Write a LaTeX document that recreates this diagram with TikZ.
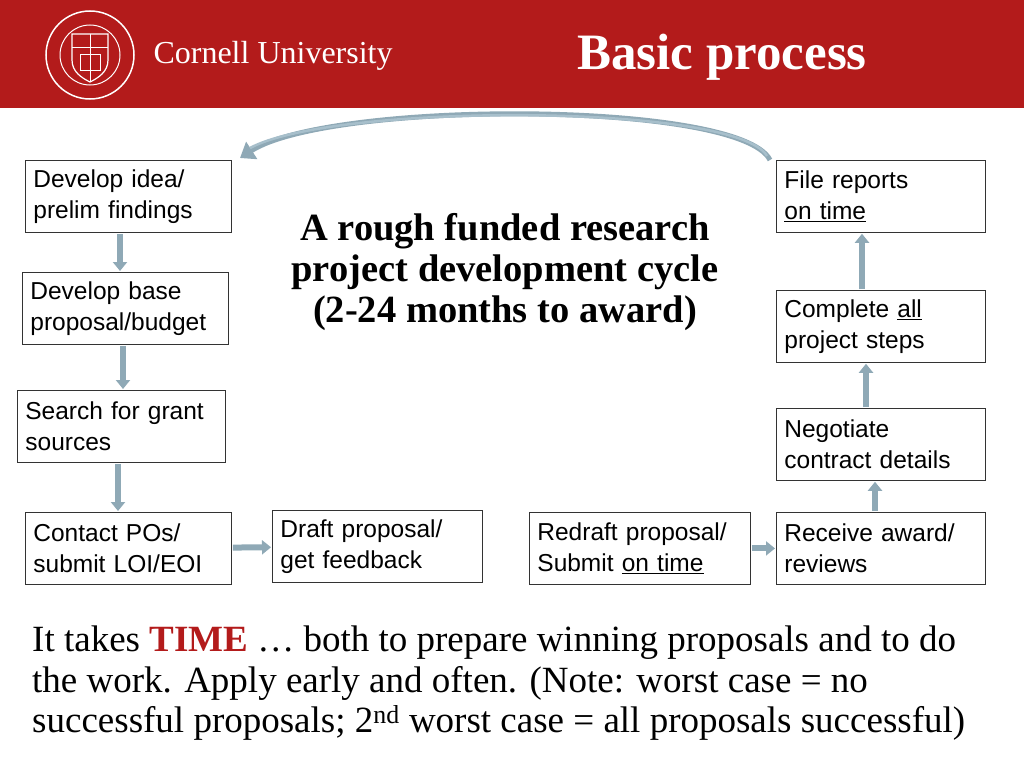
\documentclass[tikz,border=0pt]{standalone}
\usepackage{fontspec}
\setmainfont{Liberation Serif}
\newfontfamily\arialf{Liberation Sans}
\usetikzlibrary{arrows.meta}
\definecolor{cred}{HTML}{B31B1B}
\definecolor{arr}{HTML}{A7BFCB}
\definecolor{arrd}{HTML}{8FA9B6}
\tikzset{
 box/.style={draw=black!80,line width=0.8pt,minimum width=#1,minimum height=72pt,align=left,text width=#1-16pt,inner sep=7pt,font=\arialf\fontsize{24.5}{31}\selectfont},
 box/.default=206pt,
 barr/.style={draw=arrd,line width=6pt,-{Triangle[length=9pt,width=14pt]},shorten >=1pt,shorten <=1pt},
}
\begin{document}
\begin{tikzpicture}[x=1pt,y=-1pt]
\useasboundingbox (0,0) rectangle (1024,768);
\fill[cred] (0,0) rectangle (1024,108);
% seal
\draw[white,line width=1.5pt] (90,55) circle (44);
\draw[white,line width=1pt] (90,55) circle (30);
\draw[white,line width=1.2pt] (72,34) -- (108,34) -- (108,60) .. controls (108,72) and (98,78) .. (90,82) .. controls (82,78) and (72,72) .. (72,60) -- cycle;
\draw[white,line width=1pt] (90,34) -- (90,82) (72,48) -- (108,48);
\draw[white,line width=0.8pt] (80,54) rectangle (100,70);
\node[white,font=\fontsize{32}{36}\selectfont,anchor=west] (cu) at (150,56) {Cornell University};
\node[white,font=\bfseries\fontsize{51}{56}\selectfont] (title) at (722,57) {Basic process};
% boxes
\node[box,anchor=north west] (b1) at (25,160) {Develop idea/\\prelim findings};
\node[box,anchor=north west] (b2) at (22,272) {Develop base\\proposal/budget};
\node[box=208pt,anchor=north west] (b3) at (17,390) {Search for grant\\sources};
\node[box,anchor=north west] (b4) at (25,512) {Contact POs/\\submit LOI/EOI};
\node[box=210pt,anchor=north west] (b5) at (272,510) {Draft proposal/\\get feedback};
\node[box=221pt,anchor=north west] (b6) at (529,512) {Redraft proposal/\\Submit \underline{on time}};
\node[box=209pt,anchor=north west] (b7) at (776,512) {Receive award/\\reviews};
\node[box=209pt,anchor=north west] (b8) at (776,408) {Negotiate\\contract details};
\node[box=209pt,anchor=north west] (b9) at (776,290) {Complete \underline{all}\\project steps};
\node[box=209pt,anchor=north west] (b10) at (776,160) {File reports\\\underline{on time}};
% arrows
\draw[barr] (b1.south -| 120,0) -- (b2.north -| 120,0);
\draw[barr] (b2.south -| 123,0) -- (b3.north -| 123,0);
\draw[barr] (b3.south -| 118,0) -- (b4.north -| 118,0);
\draw[barr] (b4) -- (b5);
\draw[barr] (b6) -- (b7);
\draw[barr] (b7.north -| 875,0) -- (b8.south -| 875,0);
\draw[barr] (b8.north -| 866,0) -- (b9.south -| 866,0);
\draw[barr] (b9.north -| 862,0) -- (b10.south -| 862,0);
\coordinate (cs) at (770,160);
\coordinate (ce) at (240,158);
\draw[arrd,line width=5pt,-{Triangle[length=14pt,width=20pt]}] (cs) .. controls (740,100) and (330,100) .. (ce);
\draw[arr,line width=2.5pt] (767,156) .. controls (737,103) and (333,103) .. (250,148);
% centre text
\node[font=\bfseries\fontsize{38.5}{41}\selectfont,align=center] (ct) at (505,272) {A rough funded research\\project development cycle\\(2-24 months to award)};
% bottom text
\node[anchor=north west,align=left,font=\fontsize{37}{40.5}\selectfont,inner sep=0pt] (bt) at (32,626) {It takes {\color{cred}\bfseries TIME} … both to prepare winning proposals and to do\\the work. Apply early and often. (Note: worst case = no\\successful proposals; 2\textsuperscript{nd} worst case = all proposals successful)};
\end{tikzpicture}
\end{document}
